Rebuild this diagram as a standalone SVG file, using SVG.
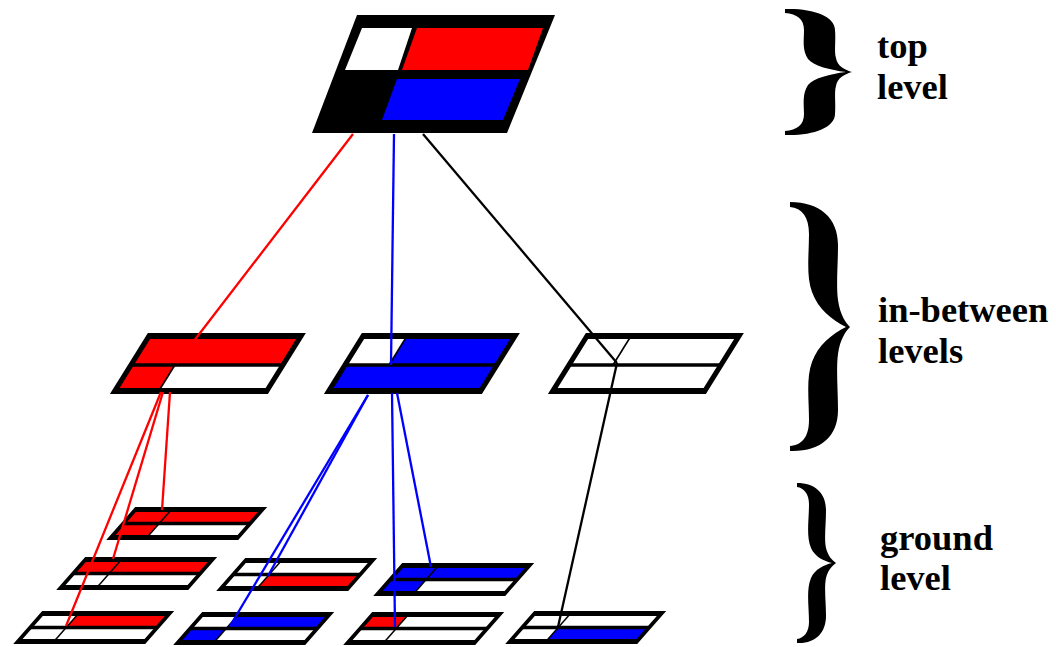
<svg xmlns="http://www.w3.org/2000/svg" width="1056" height="647" viewBox="0 0 1056 647">
<style>
.frame{fill:none;stroke:#000;stroke-linejoin:miter}
.gf{stroke-width:5}
.mf{stroke-width:6}
.mid{stroke:#000;stroke-width:3.5}
.div{stroke:#000;stroke-width:2}
.r{fill:#ff0000}
.b{fill:#0000ff}
.w{fill:#fff}
.con line{stroke-width:2.3;fill:none}
.cr{stroke:#ff0000}
.cb{stroke:#0000ff}
.ck{stroke:#000}
.lbl{font-family:"Liberation Serif","Times New Roman",serif;font-weight:bold;font-size:36.5px;fill:#000}
.brace{fill:#000}
</style>
<rect width="1056" height="647" fill="#fff"/>

<!-- top level node -->
<g id="top">
<polygon points="357,15 555,15 507,133 312,133" fill="#000"/>
<polygon points="362,28 412,28 398,70 345,70" class="w"/>
<polygon points="417,28 543,28 528,70 402,70" class="r"/>
<polygon points="397,79 520,79 503,120 382,120" class="b"/>
</g>

<!-- in-between nodes -->
<g id="mid1" transform="translate(149,336) skewX(-31.9)">
<rect x="0" y="0" width="152" height="29" class="r"/>
<rect x="0" y="29" width="44" height="26" class="r"/>
<rect x="44" y="29" width="108" height="26" class="w"/>
<line x1="44" y1="29" x2="44" y2="55" class="div"/>
<line x1="0" y1="29" x2="152" y2="29" class="mid"/>
<rect width="152" height="55" class="frame mf"/>
</g>
<g id="mid2" transform="translate(363,336) skewX(-31.9)">
<rect x="0" y="0" width="44" height="29" class="w"/>
<rect x="44" y="0" width="108" height="29" class="b"/>
<rect x="0" y="29" width="152" height="26" class="b"/>
<line x1="44" y1="0" x2="44" y2="29" class="div"/>
<line x1="0" y1="29" x2="152" y2="29" class="mid"/>
<rect width="152" height="55" class="frame mf"/>
</g>
<g id="mid3" transform="translate(587,336) skewX(-31.9)">
<rect x="0" y="0" width="152" height="55" class="w"/>
<line x1="44" y1="0" x2="44" y2="29" class="div"/>
<line x1="0" y1="29" x2="152" y2="29" class="mid"/>
<rect width="152" height="55" class="frame mf"/>
</g>

<!-- ground nodes -->
<g id="g1" transform="translate(135.5,509.5) skewX(-41.3)">
<rect x="0" y="0" width="127" height="14" class="r"/>
<rect x="0" y="14" width="36" height="14" class="r"/>
<rect x="36" y="14" width="91" height="14" class="w"/>
<line x1="36" y1="0" x2="36" y2="28" class="div"/>
<line x1="0" y1="14" x2="127" y2="14" class="mid"/>
<rect width="127" height="28" class="frame gf"/>
</g>
<g id="g2" transform="translate(85.5,559.5) skewX(-41.3)">
<rect x="0" y="0" width="127" height="14" class="r"/>
<rect x="0" y="14" width="127" height="14" class="w"/>
<line x1="36" y1="0" x2="36" y2="28" class="div"/>
<line x1="0" y1="14" x2="127" y2="14" class="mid"/>
<rect width="127" height="28" class="frame gf"/>
</g>
<g id="g3" transform="translate(245.5,560.5) skewX(-41.3)">
<rect x="0" y="0" width="127" height="14" class="w"/>
<rect x="0" y="14" width="36" height="14" class="w"/>
<rect x="36" y="14" width="91" height="14" class="r"/>
<line x1="36" y1="0" x2="36" y2="28" class="div"/>
<line x1="0" y1="14" x2="127" y2="14" class="mid"/>
<rect width="127" height="28" class="frame gf"/>
</g>
<g id="g4" transform="translate(402.5,565.5) skewX(-41.3)">
<rect x="0" y="0" width="127" height="14" class="b"/>
<rect x="0" y="14" width="36" height="14" class="b"/>
<rect x="36" y="14" width="91" height="14" class="w"/>
<line x1="36" y1="0" x2="36" y2="28" class="div"/>
<line x1="0" y1="14" x2="127" y2="14" class="mid"/>
<rect width="127" height="28" class="frame gf"/>
</g>
<g id="g5" transform="translate(42.5,613.5) skewX(-41.3)">
<rect x="0" y="0" width="36" height="14" class="w"/>
<rect x="36" y="0" width="91" height="14" class="r"/>
<rect x="0" y="14" width="127" height="14" class="w"/>
<line x1="36" y1="0" x2="36" y2="28" class="div"/>
<line x1="0" y1="14" x2="127" y2="14" class="mid"/>
<rect width="127" height="28" class="frame gf"/>
</g>
<g id="g6" transform="translate(202.5,614.5) skewX(-41.3)">
<rect x="0" y="0" width="36" height="14" class="w"/>
<rect x="36" y="0" width="91" height="14" class="b"/>
<rect x="0" y="14" width="36" height="14" class="b"/>
<rect x="36" y="14" width="91" height="14" class="w"/>
<line x1="36" y1="0" x2="36" y2="28" class="div"/>
<line x1="0" y1="14" x2="127" y2="14" class="mid"/>
<rect width="127" height="28" class="frame gf"/>
</g>
<g id="g7" transform="translate(372.5,614.5) skewX(-41.3)">
<rect x="0" y="0" width="36" height="14" class="r"/>
<rect x="36" y="0" width="91" height="14" class="w"/>
<rect x="0" y="14" width="127" height="14" class="w"/>
<line x1="36" y1="0" x2="36" y2="28" class="div"/>
<line x1="0" y1="14" x2="127" y2="14" class="mid"/>
<rect width="127" height="28" class="frame gf"/>
</g>
<g id="g8" transform="translate(534.5,613.5) skewX(-41.3)">
<rect x="0" y="0" width="127" height="14" class="w"/>
<rect x="0" y="14" width="36" height="14" class="w"/>
<rect x="36" y="14" width="91" height="14" class="b"/>
<line x1="36" y1="0" x2="36" y2="28" class="div"/>
<line x1="0" y1="14" x2="127" y2="14" class="mid"/>
<rect width="127" height="28" class="frame gf"/>
</g>

<!-- connectors -->
<g id="connectors" class="con">
<line x1="353" y1="134" x2="177" y2="363" class="cr"/>
<line x1="394" y1="134" x2="391" y2="365" class="cb"/>
<line x1="423" y1="134" x2="617" y2="363" class="ck"/>
<line x1="170" y1="392" x2="162" y2="510" class="cr"/>
<line x1="163" y1="392" x2="113" y2="559" class="cr"/>
<line x1="161" y1="392" x2="66" y2="626" class="cr"/>
<line x1="368" y1="395" x2="230" y2="626" class="cb"/>
<line x1="368" y1="395" x2="268" y2="576" class="cb"/>
<line x1="392" y1="393" x2="395" y2="627" class="cb"/>
<line x1="397" y1="393" x2="431" y2="567" class="cb"/>
<line x1="617" y1="363" x2="558" y2="627" class="ck"/>
</g>

<!-- braces -->
<g id="brace-top">
<path class="brace" d="M785,9 C812,8 835,16 835,30 C836,40 834,52 836,58 C837,66 845,70 852,72 C845,74 837,78 836,86 C834,92 836,104 835,114 C835,128 812,136 785,135 L785,131 C797,130 804,125 804,114 C804,104 802,94 808,85 C814,78 830,74 846,72 C830,70 814,66 808,59 C802,50 804,40 804,30 C804,19 797,14 785,13 Z"/>
</g>
<g id="brace-mid">
<path class="brace" d="M790,202 C820,202 838,218 838,245 C838,265 836,285 838,300 C840,315 846,323 850,327 C846,331 840,339 838,354 C836,369 838,390 838,410 C838,437 820,452 790,451 L790,446 C802,445 809,437 809,420 C809,400 806,378 812,362 C818,345 832,334 846,327 C832,320 818,309 812,292 C806,276 809,254 809,234 C809,217 802,208 790,207 Z"/>
</g>
<g id="brace-ground">
<path class="brace" d="M797,483 C815,483 826,493 826,510 C826,525 824,538 826,548 C828,556 832,560 836,563 C832,566 828,570 826,578 C824,588 826,601 826,616 C826,633 815,644 797,643 L797,639 C804,638 809,632 809,622 C809,606 806,590 811,578 C815,569 824,565 832,563 C824,561 815,557 811,548 C806,536 809,520 809,504 C809,494 804,488 797,487 Z"/>
</g>

<!-- labels -->
<g id="label-top"><text class="lbl" x="877" y="58">top</text><text class="lbl" x="877" y="99">level</text></g>
<g id="label-mid"><text class="lbl" x="878" y="322">in-between</text><text class="lbl" x="878" y="363">levels</text></g>
<g id="label-ground"><text class="lbl" x="880" y="550">ground</text><text class="lbl" x="880" y="590">level</text></g>
</svg>
